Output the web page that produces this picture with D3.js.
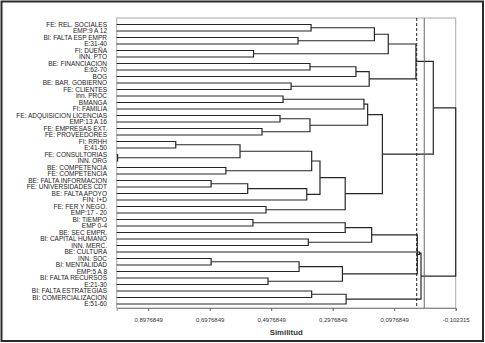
<!DOCTYPE html>
<html><head><meta charset="utf-8">
<script src="https://cdn.jsdelivr.net/npm/d3@7"></script>
<style>body{margin:0;background:#fff}svg{display:block}text{font-family:"Liberation Sans",Arial,sans-serif}</style>
</head><body>
<script>
const leaves = ["FE: REL. SOCIALES","EMP:9 A 12","BI: FALTA ESP EMPR","E:31-40","FI: DUEÑA","INN. PTO",
"BE: FINANCIACION","E:62-70","BOG","BE: BAR. GOBIERNO","FE: CLIENTES","inn. PROC","BMANGA","FI: FAMILIA",
"FE: ADQUISICION LICENCIAS","EMP:13 A 16","FE: EMPRESAS EXT.","FE: PROVEEDORES","FI: RRHH","E:41-50",
"FE: CONSULTORIAS","INN. ORG","BE: COMPETENCIA","FE: COMPETENCIA","BE: FALTA INFORMACION","FE: UNIVERSIDADES CDT",
"BE: FALTA APOYO","FIN: I+D","FE: FER Y NEGO.","EMP:17 - 20","BI: TIEMPO","EMP 0-4","BE: SEC EMPR.",
"BI: CAPITAL HUMANO","INN. MERC.","BE: CULTURA","INN. SOC","BI: MENTALIDAD","EMP:5 A 8","BI: FALTA RECURSOS",
"E:21-30","BI: FALTA ESTRATEGIAS","BI: COMERCIALIZACION","E:51-60"];
// merges: [childA, childB, similarity]; ids 0-43 leaves, 44+ merges in order
const mergeA = [20,18,36,24,22,45,47,30,4,16,28,39,14,11,9,2,46,50,33,6,56,0,49,41,66,60,68,51,67,63,57,74,73,71,65,75,78,80,77,82,83,81,85];
const mergeB = [21,19,37,25,23,44,26,31,5,17,29,40,15,12,10,3,38,27,34,7,53,1,48,42,61,55,54,32,43,8,13,64,58,62,59,70,52,76,69,35,72,79,84];
const mergeSim = [0.997,0.808,0.693,0.693,0.645,0.599,0.574,0.557,0.555,0.5275,0.5145,0.508,0.469,0.459,0.433,0.4105,
0.407,0.382,0.377,0.3715,0.3715,0.368,0.366,0.366,0.339,0.266,0.257,0.257,0.254,0.222,0.196,0.184,0.179,0.171,0.162,
0.136,0.117,0.027,0.0225,0.0154,0.0105,-0.0295,-0.102315];
const tickValues = [0.8976849,0.6976849,0.4976849,0.2976849,0.0976849,-0.102315];
const tickLabels = ["0,8976849","0,6976849","0,4976849","0,2976849","0,0976849","-0,102315"];
const cutLine = 0.0245;
const zeroLine = 0;

const W=485,H=343;
const svg=d3.select("body").append("svg").attr("width",W).attr("height",H);
const x=d3.scaleLinear().domain([1,-0.102315]).range([116.7,455.7]);
const y=d3.scalePoint().domain(d3.range(leaves.length)).range([24.5,304]);
const plotTop=18,plotBot=308;

svg.append("rect").attr("x",1.5).attr("y",1.5).attr("width",481.5).attr("height",339.5)
  .attr("fill","none").attr("stroke","#2a2a2a").attr("stroke-width",2);
svg.append("rect").attr("x",x(1)).attr("y",plotTop).attr("width",x(-0.102315)-x(1)).attr("height",plotBot-plotTop)
  .attr("fill","none").attr("stroke","#a8a8a8").attr("stroke-width",1);

const nodeY=[], nodeV=[];
leaves.forEach((l,i)=>{nodeY[i]=y(i);nodeV[i]=1;});
mergeA.forEach((a,k)=>{const id=leaves.length+k;const b=mergeB[k];nodeY[id]=(nodeY[a]+nodeY[b])/2;nodeV[id]=mergeSim[k];});

const g=svg.append("g").attr("fill","none").attr("stroke","#262626").attr("stroke-width",1.2);
mergeA.forEach((a,k)=>{
  const b=mergeB[k], px=x(mergeSim[k]);
  g.append("path").attr("d",`M${x(nodeV[a])},${nodeY[a]}H${px}V${nodeY[b]}H${x(nodeV[b])}`);
});

svg.append("line").attr("x1",x(cutLine)).attr("x2",x(cutLine)).attr("y1",plotTop).attr("y2",plotBot)
  .attr("stroke","#222").attr("stroke-width",1).attr("stroke-dasharray","3,2");
svg.append("line").attr("x1",x(zeroLine)).attr("x2",x(zeroLine)).attr("y1",plotTop).attr("y2",plotBot)
  .attr("stroke","#666").attr("stroke-width",1);

svg.append("g").selectAll("text").data(leaves).join("text")
  .attr("x",107).attr("y",(d,i)=>y(i)).attr("dy","0.35em").attr("text-anchor","end")
  .attr("font-size",6.5).attr("fill","#222").text(d=>d);

const ax=d3.axisBottom(x).tickValues(tickValues).tickFormat((d,i)=>tickLabels[i]).tickSize(3).tickPadding(7);
const axg=svg.append("g").attr("transform",`translate(0,${plotBot})`).call(ax);
axg.select(".domain").attr("stroke","#888");
axg.selectAll(".tick line").attr("stroke","#666");
axg.selectAll("text").attr("font-size",6).attr("fill","#333").attr("font-family","Liberation Sans, Arial, sans-serif");
svg.append("text").attr("x",(x(1)+x(-0.102315))/2).attr("y",335).attr("text-anchor","middle")
  .attr("font-size",7.8).attr("font-weight","bold").attr("fill","#333").text("Similitud");
</script>
</body></html>
